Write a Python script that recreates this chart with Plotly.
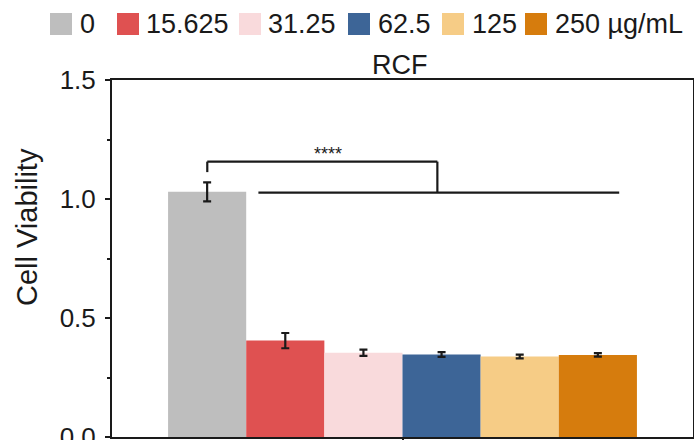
import plotly.graph_objects as go

# ---- data ----
groups = ["RCF"]
concentrations = ["0", "15.625", "31.25", "62.5", "125", "250 µg/mL"]
viability = [1.03, 0.405, 0.354, 0.347, 0.338, 0.345]
viability_err = [0.040, 0.032, 0.013, 0.010, 0.008, 0.007]
colors = ["#BEBEBE", "#DF5151", "#F9DADC", "#3D6597", "#F6CC86", "#D67C0D"]
y_ticks = [0.0, 0.5, 1.0, 1.5]
significance = "****"

FONT = "Liberation Sans, Arial, sans-serif"
W, H = 694, 440
L, R, T, B = 112, 1, 80, 3
PW, PH = W - L - R, H - T - B

def px_x(p):
    return (p - L) / PW

def px_y(p):
    return (H - B - p) / PH

fig = go.Figure()
for name, v, e, c in zip(concentrations, viability, viability_err, colors):
    fig.add_trace(go.Bar(
        x=groups, y=[v], name=name,
        marker=dict(color=c, line=dict(width=0)),
        error_y=dict(type="data", array=[e], visible=True,
                     color="#1a1a1a", thickness=2.2, width=4),
        showlegend=False,
    ))

shapes = []
annotations = []

# manual legend (large square swatches)
sw_left = [50, 117, 239, 348, 442, 525]
tx_left = [78, 144, 266, 376, 470, 553]
for name, c, sx, tx in zip(concentrations, colors, sw_left, tx_left):
    shapes.append(dict(type="rect", xref="paper", yref="paper",
                       x0=px_x(sx), x1=px_x(sx + 22), y0=px_y(35), y1=px_y(13),
                       fillcolor=c, line=dict(width=0), layer="above"))
    annotations.append(dict(text=name, xref="paper", yref="paper",
                            x=px_x(tx), y=px_y(24), xanchor="left", yanchor="middle",
                            showarrow=False, font=dict(size=27, color="#1a1a1a", family=FONT)))

# title
annotations.append(dict(text="RCF", xref="paper", yref="paper", x=px_x(400), y=px_y(65),
                        xanchor="center", yanchor="middle", showarrow=False,
                        font=dict(size=27, color="#1a1a1a", family=FONT)))
# y axis title
annotations.append(dict(text="Cell Viability", xref="paper", yref="paper",
                        x=px_x(27), y=px_y(227), xanchor="center", yanchor="middle",
                        textangle=-90, showarrow=False,
                        font=dict(size=29, color="#1a1a1a", family=FONT)))

# significance bracket
line = dict(color="#1a1a1a", width=2.2)
shapes += [
    dict(type="line", xref="x", yref="y", x0=-0.336, x1=-0.336, y0=1.113, y1=1.157, line=line),
    dict(type="line", xref="x", yref="y", x0=-0.336, x1=0.060, y0=1.157, y1=1.157, line=line),
    dict(type="line", xref="x", yref="y", x0=0.060, x1=0.060, y0=1.157, y1=1.027, line=line),
    dict(type="line", xref="x", yref="y", x0=-0.248, x1=0.373, y0=1.027, y1=1.027, line=line),
]
annotations.append(dict(text=significance, xref="x", yref="y", x=-0.128, y=1.157,
                        xanchor="center", yanchor="bottom", showarrow=False, yshift=-4,
                        font=dict(size=18, color="#1a1a1a", family=FONT)))

fig.update_layout(
    width=W, height=H,
    margin=dict(l=L, r=R, t=T, b=B, pad=0, autoexpand=False),
    paper_bgcolor="white", plot_bgcolor="white",
    barmode="group", bargap=0.193, bargroupgap=0,
    font=dict(family=FONT, color="#1a1a1a"),
    shapes=shapes, annotations=annotations,
    showlegend=False,
)
fig.update_xaxes(
    showline=True, linecolor="#1a1a1a", linewidth=2, mirror=True,
    ticks="outside", ticklen=6, tickwidth=2, tickcolor="#1a1a1a",
    showticklabels=False, showgrid=False, zeroline=False, automargin=False,
)
fig.update_yaxes(
    range=[0, 1.5], tickvals=y_ticks, ticktext=[f"{v:.1f}" for v in y_ticks],
    showline=True, linecolor="#1a1a1a", linewidth=2, mirror=True,
    ticks="outside", ticklen=5, tickwidth=2, tickcolor="#1a1a1a",
    ticklabelstandoff=4, ticklabeloverflow="allow", automargin=False,
    minor=dict(dtick=0.25, tick0=0, ticks="outside", ticklen=3, tickwidth=1.5, tickcolor="#1a1a1a", showgrid=False),
    tickfont=dict(size=26, color="#1a1a1a", family=FONT),
    showgrid=False, zeroline=False,
)

fig.write_html(
    "out.html",
    config={"displayModeBar": False},
    post_script="document.body.style.margin='0';document.body.style.overflow='hidden';",
)
